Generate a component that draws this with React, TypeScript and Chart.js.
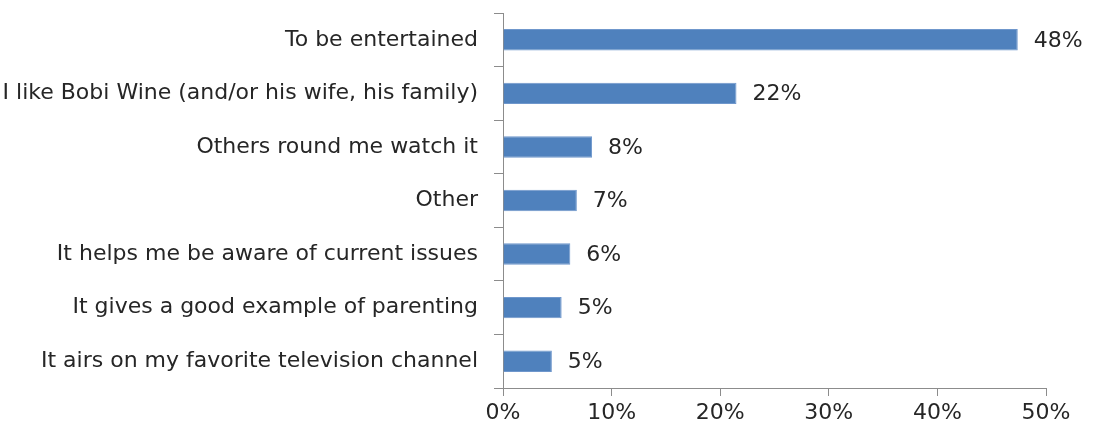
import React, { useEffect, useRef } from "react";
import { Chart, registerables } from "chart.js";

Chart.register(...registerables);

const categories = [
  "To be entertained",
  "I like Bobi Wine (and/or his wife, his family)",
  "Others round me watch it",
  "Other",
  "It helps me be aware of current issues",
  "It gives a good example of parenting",
  "It airs on my favorite television channel",
];
const values = [47.4, 21.5, 8.2, 6.8, 6.2, 5.4, 4.5];
const valueLabels = ["48%", "22%", "8%", "7%", "6%", "5%", "5%"];
const xTicks = [0, 10, 20, 30, 40, 50];

const FONT = "'DejaVu Sans', sans-serif";
const FONT_SIZE = 22;
const TEXT = "#262626";
const AXIS = "#8c8c8c";

const valueLabelPlugin = {
  id: "valueLabels",
  afterDatasetsDraw(chart: any) {
    const ctx = chart.ctx;
    const meta = chart.getDatasetMeta(0);
    ctx.save();
    ctx.font = `${FONT_SIZE}px ${FONT}`;
    ctx.fillStyle = TEXT;
    ctx.textAlign = "left";
    ctx.textBaseline = "middle";
    meta.data.forEach((bar: any, i: number) => {
      ctx.fillText(valueLabels[i], bar.x + 16, bar.y + 1);
    });
    ctx.restore();
  },
};

export default function App() {
  const ref = useRef<HTMLCanvasElement>(null);
  useEffect(() => {
    document.body.style.margin = "0";
    const chart = new Chart(ref.current as HTMLCanvasElement, {
      type: "bar",
      data: {
        labels: categories,
        datasets: [
          {
            data: values,
            backgroundColor: "#4F81BD",
            borderColor: "#6f97cc",
            borderWidth: 1,
            barPercentage: 0.4,
            categoryPercentage: 1,
          },
        ],
      },
      options: {
        indexAxis: "y",
        animation: false,
        responsive: false,
        maintainAspectRatio: false,
        layout: { padding: { top: 13, right: 48, left: 0, bottom: 0 } },
        plugins: { legend: { display: false }, tooltip: { enabled: false } },
        scales: {
          x: {
            min: 0,
            max: 50,
            afterBuildTicks(scale: any) {
              scale.ticks = xTicks.map((v) => ({ value: v }));
            },
            afterFit(scale: any) {
              scale.height = 42;
              scale.paddingLeft = 0;
              scale.paddingRight = 0;
            },
            grid: { drawOnChartArea: false, drawTicks: true, tickLength: 8, color: AXIS },
            border: { color: AXIS, width: 1 },
            ticks: {
              color: TEXT,
              font: { family: FONT, size: FONT_SIZE },
              padding: 4,
              callback: (v: any) => `${v}%`,
            },
          },
          y: {
            afterFit(scale: any) {
              scale.width = 503;
              scale.paddingTop = 0;
              scale.paddingBottom = 0;
            },
            grid: { drawOnChartArea: false, drawTicks: true, tickLength: 9, color: AXIS, offset: true },
            border: { color: AXIS, width: 1 },
            ticks: {
              color: TEXT,
              font: { family: FONT, size: FONT_SIZE },
              padding: 16,
              autoSkip: false,
            },
          },
        },
      },
      plugins: [valueLabelPlugin],
    });
    return () => chart.destroy();
  }, []);
  return <canvas ref={ref} width={1094} height={430} style={{ display: "block" }} />;
}
